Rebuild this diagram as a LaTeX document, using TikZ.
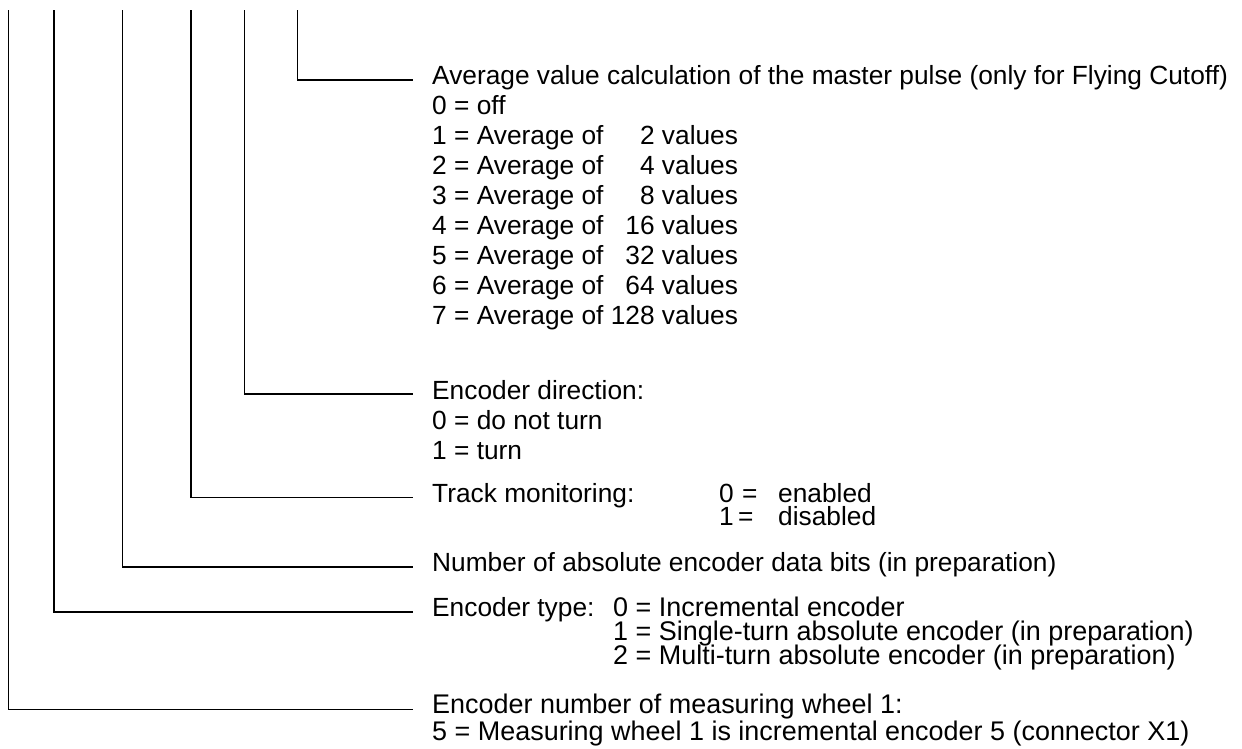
\documentclass[tikz,border=0pt]{standalone}
\usepackage{fontspec}
\setmainfont{Liberation Sans}
\begin{document}
\begin{tikzpicture}[x=1pt,y=-1pt,
  lbl/.style={anchor=base west, inner sep=0pt, font=\fontsize{26.3}{30}\selectfont},
  lblw/.style={anchor=base west, inner sep=0pt, font=\fontsize{26.95}{30}\selectfont},
  leader/.style={line width=1.5pt, line cap=rect}]
\useasboundingbox (0,0) rectangle (1242,749);
% text labels
\node[lbl] (a0) at (432,84.5) {Average value calculation of the master pulse (only for Flying Cutoff)};
\node[lbl] (a1) at (432,114.5) {0 = off};
\node[lbl] (a2) at (432,144.5) {1 = Average of \hphantom{12}2 values};
\node[lbl] (a3) at (432,174.5) {2 = Average of \hphantom{12}4 values};
\node[lbl] (a4) at (432,204.5) {3 = Average of \hphantom{12}8 values};
\node[lbl] (a5) at (432,234.5) {4 = Average of \hphantom{1}16 values};
\node[lbl] (a6) at (432,264.5) {5 = Average of \hphantom{1}32 values};
\node[lbl] (a7) at (432,294.5) {6 = Average of \hphantom{1}64 values};
\node[lbl] (a8) at (432,324.5) {7 = Average of 128 values};
\node[lbl] (b0) at (432,399) {Encoder direction:};
\node[lbl] (b1) at (432,429) {0 = do not turn};
\node[lbl] (b2) at (432,459) {1 = turn};
\node[lbl] (c0) at (432,502) {Track monitoring:};
\node[lbl] (c1) at (719,502) {\makebox[23pt][l]{0}\makebox[36pt][l]{=}enabled};
\node[lbl] (c2) at (719,525.5) {\makebox[19pt][l]{1}\makebox[40pt][l]{=}disabled};
\node[lbl] (d0) at (432,571.5) {Number of absolute encoder data bits (in preparation)};
\node[lbl] (e0) at (432,616.5) {Encoder type:};
\node[lblw] (e1) at (613,616.5) {0 = Incremental encoder};
\node[lblw] (e2) at (613,640.5) {1 = Single-turn absolute encoder (in preparation)};
\node[lblw] (e3) at (613,664.5) {2 = Multi-turn absolute encoder (in preparation)};
\node[lblw] (f0) at (432,713.5) {Encoder number of measuring wheel 1:};
\node[lblw] (f1) at (432,740) {5 = Measuring wheel 1 is incremental encoder 5 (connector X1)};
% leader lines
\coordinate (tA) at (297.3,11); \coordinate (hA) at (412,80);
\coordinate (tB) at (244.3,11); \coordinate (hB) at (412,394);
\coordinate (tC) at (191,11);   \coordinate (hC) at (412,497.5);
\coordinate (tD) at (122.3,11); \coordinate (hD) at (412,567);
\coordinate (tE) at (54,11);    \coordinate (hE) at (412,612);
\coordinate (tF) at (8.3,11);   \coordinate (hF) at (412,709.5);
\draw[leader] (tA) |- (hA);
\draw[leader] (tB) |- (hB);
\draw[leader] (tC) |- (hC);
\draw[leader] (tD) |- (hD);
\draw[leader] (tE) |- (hE);
\draw[leader] (tF) |- (hF);
\end{tikzpicture}
\end{document}
